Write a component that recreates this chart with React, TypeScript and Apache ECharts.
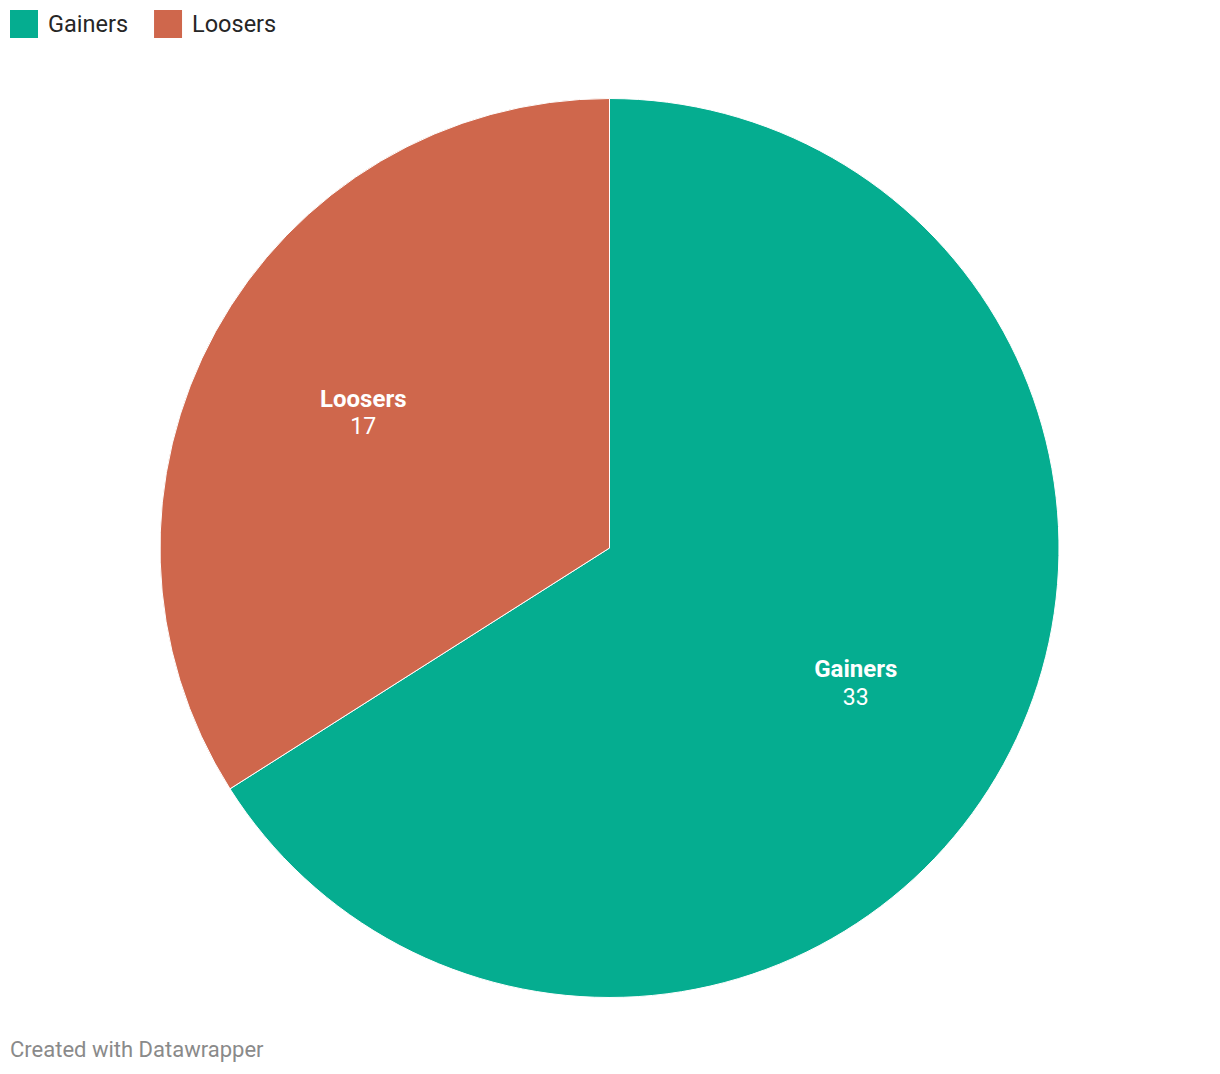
import React, { useEffect, useRef } from "react";
import * as echarts from "echarts";

const categories = ["Gainers", "Loosers"];
const values = [33, 17];
const colors = ["#05ad90", "#cf674c"];
const footer = "Created with Datawrapper";

export default function App() {
  const ref = useRef<HTMLDivElement>(null);
  useEffect(() => {
    document.body.style.margin = "0";
    const chart = echarts.init(ref.current!, null, { renderer: "svg" });
    const data = categories.map((name, i) => ({
      name,
      value: values[i],
      itemStyle: { color: colors[i] },
    }));
    const labelData = categories.map((name, i) => ({
      name,
      value: values[i],
    }));
    chart.setOption({
      animation: false,
      legend: {
        data: categories,
        left: 10,
        top: 10,
        padding: 0,
        itemWidth: 28,
        itemHeight: 28,
        itemGap: 26,
        icon: "rect",
        selectedMode: false,
        textStyle: {
          fontFamily: "Roboto",
          fontSize: 23.5,
          color: "#262626",
          padding: [0, 0, 0, 5],
        },
        itemStyle: { borderWidth: 0 },
      },
      graphic: [
        {
          type: "text",
          left: 10,
          top: 1038,
          style: {
            text: footer,
            fontFamily: "Roboto",
            fontSize: 22,
            fill: "#8a8a8a",
          },
        },
      ],
      series: [
        {
          type: "pie",
          center: [609.5, 548],
          radius: [0, 449.5],
          startAngle: 90,
          clockwise: true,
          silent: true,
          data,
          itemStyle: { borderColor: "#ffffff", borderWidth: 1 },
          label: { show: false },
          labelLine: { show: false },
        },
        {
          type: "pie",
          center: [609.5, 548],
          radius: [0, 556],
          startAngle: 90,
          clockwise: true,
          silent: true,
          data: labelData,
          itemStyle: { color: "rgba(0,0,0,0)" },
          label: {
            show: true,
            position: "inside",
            formatter: "{n|{b}}\n{v|{c}}",
            rich: {
              n: {
                fontFamily: "Roboto",
                fontWeight: "bold",
                fontSize: 24,
                color: "#ffffff",
                lineHeight: 28,
                align: "center",
              },
              v: {
                fontFamily: "Roboto",
                fontSize: 23,
                color: "#ffffff",
                lineHeight: 28,
                align: "center",
              },
            },
          },
          labelLine: { show: false },
        },
      ],
    });
    return () => chart.dispose();
  }, []);
  return (
    <div
      ref={ref}
      style={{ position: "absolute", left: 0, top: 0, width: 1220, height: 1074 }}
    />
  );
}
